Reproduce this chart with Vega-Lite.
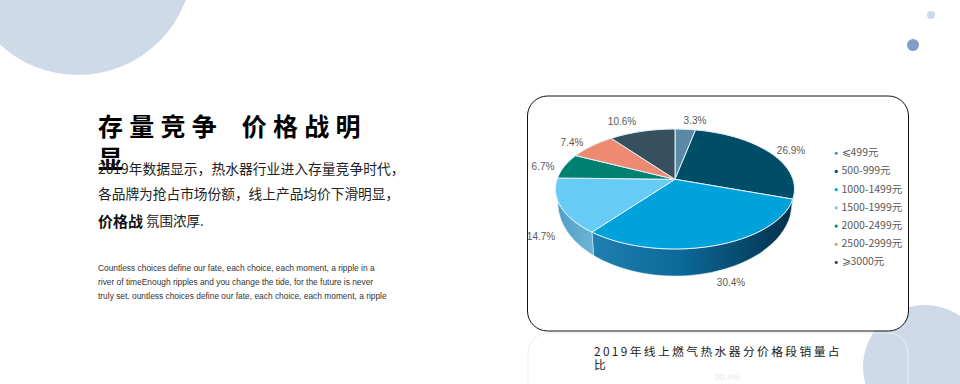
{
"$schema":"https://vega.github.io/schema/vega-lite/v6.json",
"width":960,"height":384,"padding":0,"background":"#ffffff",
"autosize":{"type":"fit","contains":"padding"},
"config":{"view":{"stroke":null}},
"data":{"values":[
{"rank":1,"segment":"⩽499元","share":3.3},
{"rank":2,"segment":"500-999元","share":26.9},
{"rank":3,"segment":"1000-1499元","share":30.4},
{"rank":4,"segment":"1500-1999元","share":14.7},
{"rank":5,"segment":"2000-2499元","share":6.7},
{"rank":6,"segment":"2500-2999元","share":7.4},
{"rank":7,"segment":"⩾3000元","share":10.6}
]},
"transform":[
{"stack":"share","groupby":[],"sort":[{"field":"rank","order":"ascending"}],"offset":"normalize","as":["s0","s1"]},
{"calculate":"datum.s0*2*PI-0.166*sin(datum.s0*2*PI)","as":"t0"},
{"calculate":"datum.s1*2*PI-0.166*sin(datum.s1*2*PI)","as":"t1"},
{"calculate":"'M0,-9.7L'+round(11950*sin(datum.t0))/100+','+round(-6000*cos(datum.t0))/100+'A119.5,60 0 '+(datum.t1-datum.t0>PI?1:0)+' 1 '+round(11950*sin(datum.t1))/100+','+round(-6000*cos(datum.t1))/100+'Z'","as":"topPath"},
{"calculate":"max(datum.t0,PI/2)","as":"w0"},
{"calculate":"min(datum.t1,3*PI/2)","as":"w1"},
{"calculate":"'M'+round(11950*sin(datum.w0))/100+','+round(-6000*cos(datum.w0))/100+'A119.5,60 0 0 1 '+round(11950*sin(datum.w1))/100+','+round(-6000*cos(datum.w1))/100+'L'+round(11700*sin(datum.w1))/100+','+round(1400-7300*cos(datum.w1))/100+'A117,73 0 0 0 '+round(11700*sin(datum.w0))/100+','+round(1400-7300*cos(datum.w0))/100+'Z'","as":"wallPath"},
{"calculate":"{'⩽499元':695,'500-999元':791,'1000-1499元':731,'1500-1999元':541,'2000-2499元':543,'2500-2999元':572,'⩾3000元':622}[datum.segment]","as":"labelX"},
{"calculate":"{'⩽499元':121,'500-999元':151,'1000-1499元':283,'1500-1999元':237,'2000-2499元':167,'2500-2999元':143,'⩾3000元':122}[datum.segment]","as":"labelY"},
{"calculate":"format(datum.share,'.1f')+'%'","as":"shareLabel"}
],
"layer":[
{"data":{"values":[{"item":"large circle"}]},"mark":{"type":"point","filled":true,"shape":"circle","size":52900,"opacity":1,"color":"#cfdae8","clip":true},
"encoding":{"x":{"datum":78,"type":"quantitative","scale":{"domain":[0,960],"range":[0,960]},"axis":null},"y":{"datum":-40,"type":"quantitative","scale":{"domain":[0,384],"range":[0,384]},"axis":null}}},
{"data":{"values":[{"item":"corner circle"}]},"mark":{"type":"point","filled":true,"shape":"circle","size":15376,"opacity":1,"color":"#cfdae8","clip":true},
"encoding":{"x":{"datum":925,"type":"quantitative","scale":{"domain":[0,960],"range":[0,960]},"axis":null},"y":{"datum":367,"type":"quantitative","scale":{"domain":[0,384],"range":[0,384]},"axis":null}}},
{"data":{"values":[{"item":"dot"}]},"mark":{"type":"point","filled":true,"shape":"circle","size":64,"opacity":1,"color":"#cfdae8"},
"encoding":{"x":{"datum":931,"type":"quantitative","scale":{"domain":[0,960],"range":[0,960]},"axis":null},"y":{"datum":15,"type":"quantitative","scale":{"domain":[0,384],"range":[0,384]},"axis":null}}},
{"data":{"values":[{"item":"dot"}]},"mark":{"type":"point","filled":true,"shape":"circle","size":144,"opacity":1,"color":"#7f9dc9"},
"encoding":{"x":{"datum":913,"type":"quantitative","scale":{"domain":[0,960],"range":[0,960]},"axis":null},"y":{"datum":45,"type":"quantitative","scale":{"domain":[0,384],"range":[0,384]},"axis":null}}},
{"data":{"values":[{"item":"reflection"}]},"mark":{"type":"rect","fill":null,"stroke":"#ececec","strokeWidth":1,"cornerRadius":20,"clip":true},
"encoding":{"x":{"datum":528,"type":"quantitative","scale":{"domain":[0,960],"range":[0,960]},"axis":null},"x2":{"datum":908},"y":{"datum":333,"type":"quantitative","scale":{"domain":[0,384],"range":[0,384]},"axis":null},"y2":{"datum":450}}},
{"data":{"values":[{"item":"panel"}]},"mark":{"type":"rect","fill":"#ffffff","stroke":"#111111","strokeWidth":1,"cornerRadius":20},
"encoding":{"x":{"datum":527.5,"type":"quantitative","scale":{"domain":[0,960],"range":[0,960]},"axis":null},"x2":{"datum":908.5},"y":{"datum":96,"type":"quantitative","scale":{"domain":[0,384],"range":[0,384]},"axis":null},"y2":{"datum":331}}},
{"transform":[{"filter":"datum.rank==2"}],"mark":{"type":"point","filled":true,"size":4,"opacity":1,"fill":"#033a52","stroke":"#dff0f8","strokeWidth":0.5},
"encoding":{"x":{"datum":675,"type":"quantitative","scale":{"domain":[0,960],"range":[0,960]},"axis":null},"y":{"datum":189,"type":"quantitative","scale":{"domain":[0,384],"range":[0,384]},"axis":null},"shape":{"field":"wallPath","type":"nominal","scale":null,"legend":null}}},
{"transform":[{"filter":"datum.rank==3"}],"mark":{"type":"point","filled":true,"size":4,"opacity":1,"fill":{"gradient":"linear","x1":0,"y1":0,"x2":1,"y2":0,"stops":[{"offset":0,"color":"#1f80b2"},{"offset":0.45,"color":"#0c6898"},{"offset":1,"color":"#04304a"}]},"stroke":"#dff0f8","strokeWidth":0.5},
"encoding":{"x":{"datum":675,"type":"quantitative","scale":{"domain":[0,960],"range":[0,960]},"axis":null},"y":{"datum":189,"type":"quantitative","scale":{"domain":[0,384],"range":[0,384]},"axis":null},"shape":{"field":"wallPath","type":"nominal","scale":null,"legend":null}}},
{"transform":[{"filter":"datum.rank==4"}],"mark":{"type":"point","filled":true,"size":4,"opacity":1,"fill":{"gradient":"linear","x1":0,"y1":0,"x2":1,"y2":0,"stops":[{"offset":0,"color":"#4f9cc6"},{"offset":1,"color":"#6fb4d8"}]},"stroke":"#dff0f8","strokeWidth":0.5},
"encoding":{"x":{"datum":675,"type":"quantitative","scale":{"domain":[0,960],"range":[0,960]},"axis":null},"y":{"datum":189,"type":"quantitative","scale":{"domain":[0,384],"range":[0,384]},"axis":null},"shape":{"field":"wallPath","type":"nominal","scale":null,"legend":null}}},
{"mark":{"type":"point","filled":true,"size":4,"opacity":1,"stroke":"#e4f2f9","strokeWidth":1},
"encoding":{"x":{"datum":675,"type":"quantitative","scale":{"domain":[0,960],"range":[0,960]},"axis":null},"y":{"datum":189,"type":"quantitative","scale":{"domain":[0,384],"range":[0,384]},"axis":null},
"shape":{"field":"topPath","type":"nominal","scale":null,"legend":null},
"color":{"field":"segment","type":"nominal","scale":{"domain":["⩽499元","500-999元","1000-1499元","1500-1999元","2000-2499元","2500-2999元","⩾3000元"],"range":["#5b8aa6","#004d68","#00a2db","#66ccf5","#008070","#ee8a72","#36505f"]},
"legend":{"orient":"none","legendX":831,"legendY":148,"title":null,"symbolType":"circle","symbolSize":10,"symbolStrokeWidth":0,"symbolOpacity":1,"labelFont":"Noto Sans CJK SC","labelFontSize":10.5,"labelColor":"#595959","labelOffset":0,"rowPadding":7.2,"labelLimit":120}}}},
{"mark":{"type":"text","font":"Liberation Sans","fontSize":10,"color":"#595959","align":"center","baseline":"middle"},
"encoding":{"x":{"field":"labelX","type":"quantitative","scale":{"domain":[0,960],"range":[0,960]},"axis":null},"y":{"field":"labelY","type":"quantitative","scale":{"domain":[0,384],"range":[0,384]},"axis":null},"text":{"field":"shareLabel"}}},
{"data":{"values":[{"text":"存 量 竞 争    价 格 战 明"}]},"transform":[{"calculate":"replace(datum.text,/ /g,'\u2005')","as":"text"}],"mark":{"type":"text","font":"Noto Sans CJK SC","fontWeight":"bold","fontSize":25,"color":"#000000","align":"left","baseline":"middle"},
"encoding":{"x":{"datum":98,"type":"quantitative","scale":{"domain":[0,960],"range":[0,960]},"axis":null},"y":{"datum":128,"type":"quantitative","scale":{"domain":[0,384],"range":[0,384]},"axis":null},"text":{"field":"text"}}},
{"data":{"values":[{"text":"显"}]},"mark":{"type":"text","font":"Noto Sans CJK SC","fontWeight":"bold","fontSize":25,"color":"#000000","align":"left","baseline":"middle"},
"encoding":{"x":{"datum":98,"type":"quantitative","scale":{"domain":[0,960],"range":[0,960]},"axis":null},"y":{"datum":160,"type":"quantitative","scale":{"domain":[0,384],"range":[0,384]},"axis":null},"text":{"field":"text"}}},
{"data":{"values":[{"text":"2019年数据显示，热水器行业进入存量竞争时代，"}]},"mark":{"type":"text","font":"Noto Sans CJK SC","fontSize":13.8,"color":"#222222","align":"left","baseline":"middle"},
"encoding":{"x":{"datum":98,"type":"quantitative","scale":{"domain":[0,960],"range":[0,960]},"axis":null},"y":{"datum":170,"type":"quantitative","scale":{"domain":[0,384],"range":[0,384]},"axis":null},"text":{"field":"text"}}},
{"data":{"values":[{"text":"各品牌为抢占市场份额，线上产品均价下滑明显，"}]},"mark":{"type":"text","font":"Noto Sans CJK SC","fontSize":13.7,"color":"#222222","align":"left","baseline":"middle"},
"encoding":{"x":{"datum":98,"type":"quantitative","scale":{"domain":[0,960],"range":[0,960]},"axis":null},"y":{"datum":195,"type":"quantitative","scale":{"domain":[0,384],"range":[0,384]},"axis":null},"text":{"field":"text"}}},
{"data":{"values":[{"text":"价格战"}]},"mark":{"type":"text","font":"Noto Sans CJK SC","fontWeight":"bold","fontSize":15,"color":"#111111","align":"left","baseline":"middle"},
"encoding":{"x":{"datum":98,"type":"quantitative","scale":{"domain":[0,960],"range":[0,960]},"axis":null},"y":{"datum":222,"type":"quantitative","scale":{"domain":[0,384],"range":[0,384]},"axis":null},"text":{"field":"text"}}},
{"data":{"values":[{"text":"氛围浓厚."}]},"mark":{"type":"text","font":"Noto Sans CJK SC","fontSize":13.5,"color":"#222222","align":"left","baseline":"middle"},
"encoding":{"x":{"datum":146,"type":"quantitative","scale":{"domain":[0,960],"range":[0,960]},"axis":null},"y":{"datum":222,"type":"quantitative","scale":{"domain":[0,384],"range":[0,384]},"axis":null},"text":{"field":"text"}}},
{"data":{"values":[{"text":"Countless choices define our fate, each choice, each moment, a ripple in a\nriver of timeEnough ripples and you change the tide, for the future is never\ntruly set. ountless choices define our fate, each choice, each moment, a ripple"}]},"mark":{"type":"text","font":"Liberation Sans","fontSize":8.4,"color":"#333333","align":"left","baseline":"top","lineBreak":"\n","lineHeight":14.2},
"encoding":{"x":{"datum":98,"type":"quantitative","scale":{"domain":[0,960],"range":[0,960]},"axis":null},"y":{"datum":263.5,"type":"quantitative","scale":{"domain":[0,384],"range":[0,384]},"axis":null},"text":{"field":"text"}}},
{"data":{"values":[{"text":"2 0 1 9 年 线 上 燃 气 热 水 器 分 价 格 段 销 量 占\n比"}]},"transform":[{"calculate":"replace(datum.text,/ /g,'\u2009')","as":"text"}],"mark":{"type":"text","font":"Noto Sans CJK SC","fontSize":11.8,"color":"#222222","align":"left","baseline":"top","lineBreak":"\n","lineHeight":13},
"encoding":{"x":{"datum":594,"type":"quantitative","scale":{"domain":[0,960],"range":[0,960]},"axis":null},"y":{"datum":346.5,"type":"quantitative","scale":{"domain":[0,384],"range":[0,384]},"axis":null},"text":{"field":"text"}}},
{"data":{"values":[{"text":"30.4%"}]},"mark":{"type":"text","font":"Liberation Sans","fontSize":9,"color":"#e8e8e8","align":"center","baseline":"middle"},
"encoding":{"x":{"datum":727,"type":"quantitative","scale":{"domain":[0,960],"range":[0,960]},"axis":null},"y":{"datum":377,"type":"quantitative","scale":{"domain":[0,384],"range":[0,384]},"axis":null},"text":{"field":"text"}}}
]
}
